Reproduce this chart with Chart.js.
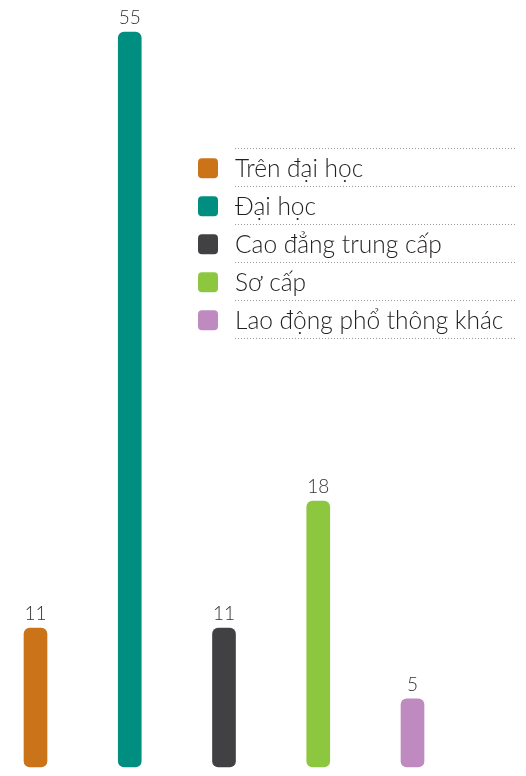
<!DOCTYPE html>
<html>
<head>
<meta charset="utf-8">
<script src="https://cdn.jsdelivr.net/npm/chart.js@4/dist/chart.umd.min.js"></script>
<style>
html,body{margin:0;padding:0;background:#fff;}
#wrap{width:526px;height:776px;position:relative;}
</style>
</head>
<body>
<div id="wrap"><canvas id="c"></canvas></div>
<script>
const categories = ['Trên đại học', 'Đại học', 'Cao đẳng trung cấp', 'Sơ cấp', 'Lao động phổ thông khác'];
const values = [10.4, 55, 10.4, 19.9, 5.1];
const valueLabels = ['11', '55', '11', '18', '5'];
const colors = ['#CB7318', '#008E81', '#414042', '#8DC63F', '#BE8ABF'];

const TEXT_FONT = '"Lato", "Open Sans", sans-serif';

const valueLabelPlugin = {
  id: 'valueLabels',
  afterDatasetsDraw(chart) {
    const ctx = chart.ctx;
    const meta = chart.getDatasetMeta(0);
    ctx.save();
    ctx.font = '300 19px ' + TEXT_FONT;
    ctx.fillStyle = '#333333';
    ctx.textAlign = 'center';
    ctx.textBaseline = 'alphabetic';
    meta.data.forEach((bar, i) => {
      ctx.fillText(valueLabels[i], bar.x, bar.y - 8);
    });
    ctx.restore();
  }
};

const legendPlugin = {
  id: 'sideLegend',
  afterDraw(chart) {
    const ctx = chart.ctx;
    const x0 = 198, swatch = 20, textX = 235, lineX1 = 235, lineX2 = 517;
    const top = 148.3, step = 38;
    ctx.save();
    ctx.strokeStyle = '#9a9a9a';
    ctx.lineWidth = 1;
    ctx.setLineDash([1, 2]);
    for (let i = 0; i <= categories.length; i++) {
      const y = Math.round(top + i * step) + 0.5;
      ctx.beginPath();
      ctx.moveTo(lineX1, y);
      ctx.lineTo(lineX2, y);
      ctx.stroke();
    }
    ctx.setLineDash([]);
    ctx.font = '300 24.5px ' + TEXT_FONT;
    ctx.textBaseline = 'alphabetic';
    ctx.textAlign = 'left';
    categories.forEach((c, i) => {
      const cy = top + i * step + 20;
      ctx.fillStyle = colors[i];
      ctx.beginPath();
      ctx.roundRect(x0, cy - swatch / 2, swatch, swatch, 4);
      ctx.fill();
      ctx.fillStyle = '#231F20';
      ctx.fillText(c, textX, top + i * step + 29);
    });
    ctx.restore();
  }
};

new Chart(document.getElementById('c'), {
  type: 'bar',
  data: {
    labels: categories,
    datasets: [{
      data: values,
      backgroundColor: colors,
      borderWidth: 0,
      borderRadius: 6,
      borderSkipped: false,
      barThickness: 23,
      clip: false
    }]
  },
  options: {
    responsive: true,
    maintainAspectRatio: false,
    animation: false,
    layout: { padding: { left: 35.5, right: 113.5, top: 0, bottom: 9 } },
    plugins: { legend: { display: false }, tooltip: { enabled: false } },
    scales: {
      x: { display: false, offset: false, grid: { display: false } },
      y: { display: false, min: 0, max: 57.4, grid: { display: false } }
    }
  },
  plugins: [valueLabelPlugin, legendPlugin]
});
</script>
</body>
</html>
